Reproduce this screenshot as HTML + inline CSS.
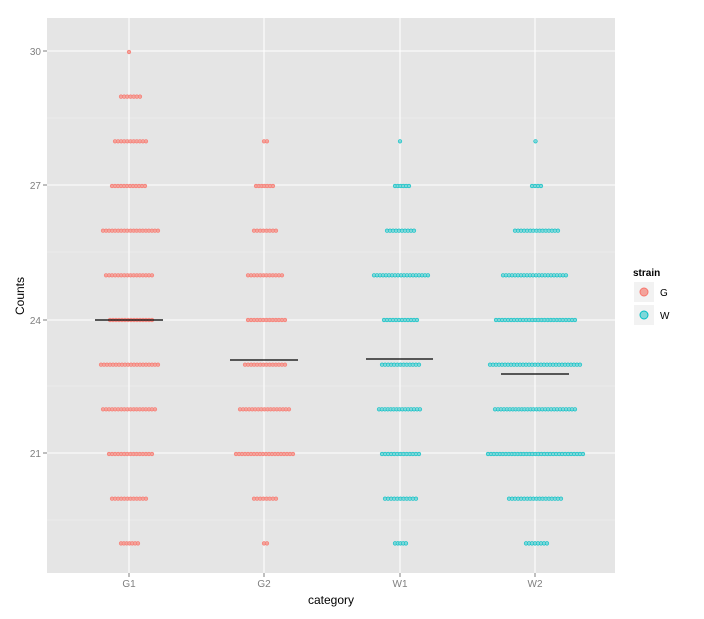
<!DOCTYPE html><html><head><style>body{margin:0;background:#fff}svg{display:block;font-family:"Liberation Sans",sans-serif}</style></head><body>
<svg id="s" width="704" height="619" xmlns="http://www.w3.org/2000/svg">
<rect x="47" y="18" width="568" height="555" fill="#e5e5e5"/>
<g stroke="#f2f2f2" stroke-width="0.6"><line x1="47" x2="615" y1="118" y2="118"/><line x1="47" x2="615" y1="252" y2="252"/><line x1="47" x2="615" y1="386" y2="386"/><line x1="47" x2="615" y1="520" y2="520"/></g>
<g stroke="#fff" stroke-width="1.1"><line x1="47" x2="615" y1="51" y2="51"/><line x1="47" x2="615" y1="185" y2="185"/><line x1="47" x2="615" y1="320" y2="320"/><line x1="47" x2="615" y1="453" y2="453"/>
<line x1="129" x2="129" y1="18" y2="573"/><line x1="264" x2="264" y1="18" y2="573"/><line x1="400" x2="400" y1="18" y2="573"/><line x1="535" x2="535" y1="18" y2="573"/></g>
<g id="dots"></g>
<g stroke="#000" stroke-width="1.2"><line x1="95" x2="163" y1="320" y2="320"/><line x1="230" x2="298" y1="360" y2="360"/><line x1="366" x2="433" y1="359" y2="359"/><line x1="501" x2="569" y1="374" y2="374"/></g>
<g font-size="10" fill="#7f7f7f" text-anchor="end"><text x="41" y="55">30</text><text x="41" y="189">27</text><text x="41" y="324">24</text><text x="41" y="457">21</text></g>
<g stroke="#7f7f7f"><line x1="43" x2="47" y1="51" y2="51"/><line x1="43" x2="47" y1="185" y2="185"/><line x1="43" x2="47" y1="320" y2="320"/><line x1="43" x2="47" y1="453" y2="453"/>
<line x1="129" x2="129" y1="573" y2="577"/><line x1="264" x2="264" y1="573" y2="577"/><line x1="400" x2="400" y1="573" y2="577"/><line x1="535" x2="535" y1="573" y2="577"/></g>
<g font-size="10" fill="#7f7f7f" text-anchor="middle"><text x="129" y="587">G1</text><text x="264" y="587">G2</text><text x="400" y="587">W1</text><text x="535" y="587">W2</text></g>
<text x="331" y="604" font-size="12" text-anchor="middle">category</text>
<text transform="translate(24,296) rotate(-90)" font-size="12" text-anchor="middle">Counts</text>
<text x="633" y="276" font-size="10" font-weight="bold">strain</text>
<rect x="634" y="282" width="20" height="20" fill="#f2f2f2"/><rect x="634" y="305" width="20" height="20" fill="#f2f2f2"/>
<circle cx="644" cy="292" r="4" fill="#f3a39b" stroke="#f8766d"/><circle cx="644" cy="315" r="4" fill="#7fd7d9" stroke="#00bfc4"/>
<text x="660" y="296" font-size="10">G</text><text x="660" y="319" font-size="10">W</text>
</svg>
<script>
var d={G:[[30,127,131],[29,119,142],[28,113,148],[27,110,147],[26,101,160],[25,104,154],[24,108,154],[23,99,160],[22,101,157],[21,107,154],[20,110,148],[19,119,140],
[28,262,269],[27,254,275],[26,252,278],[25,246,284],[24,246,287],[23,243,287],[22,238,291],[21,234,295],[20,252,278],[19,262,269]],
W:[[28,398,402],[27,393,411],[26,385,416],[25,372,430],[24,382,419],[23,380,421],[22,377,422],[21,380,421],[20,383,418],[19,393,408],
[28,533,538],[27,530,543],[26,513,560],[25,501,568],[24,494,577],[23,488,582],[22,493,577],[21,486,585],[20,507,563],[19,524,549]]};
var c={G:['#f3a39b','#f8766d'],W:['#7fd7d9','#00bfc4']},h='';
for(var k in d)d[k].forEach(function(r){var y=320-(r[0]-24)*44.67,a=r[1]+2,b=r[2]-2,n=Math.max(1,Math.round((b-a)/3)+1),st=n>1?(b-a)/(n-1):0;
for(var i=0;i<n;i++){var x=n>1?a+i*st:(r[1]+r[2])/2;h+='<circle cx="'+x.toFixed(1)+'" cy="'+y.toFixed(1)+'" r="1.8" fill="'+c[k][0]+'" stroke="'+c[k][1]+'" stroke-width="0.6"/>';}});
document.getElementById('dots').innerHTML=h;
</script>
</body></html>
